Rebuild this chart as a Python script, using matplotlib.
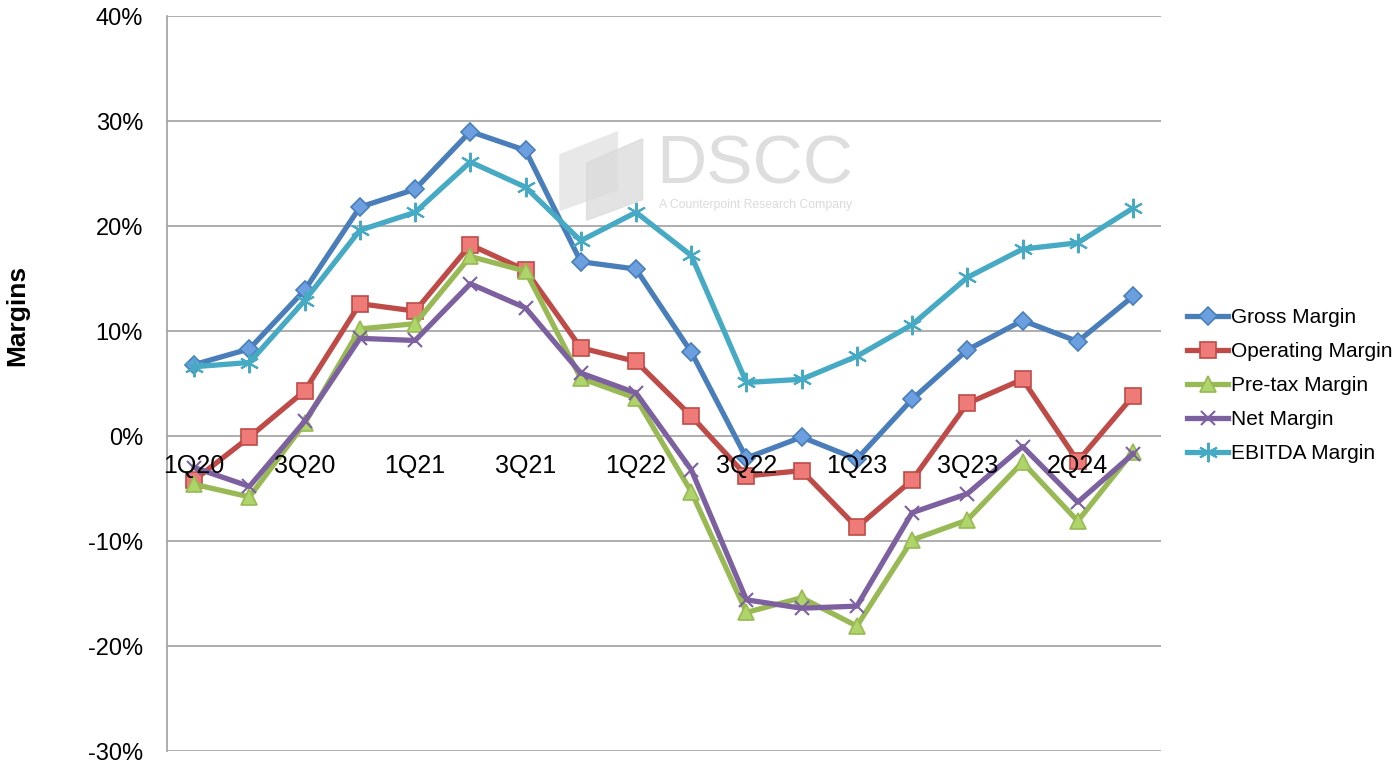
import matplotlib
matplotlib.use('Agg')
import matplotlib.pyplot as plt
from matplotlib.patches import Polygon
from matplotlib.ticker import FuncFormatter

plt.rcParams['font.family'] = ['Liberation Sans', 'DejaVu Sans']

#Data (percent)
quarters = ['1Q20', '2Q20', '3Q20', '4Q20', '1Q21', '2Q21', '3Q21', '4Q21', '1Q22',
            '2Q22', '3Q22', '4Q22', '1Q23', '2Q23', '3Q23', '1Q24', '2Q24', '3Q24']
shown_labels = ['1Q20', '3Q20', '1Q21', '3Q21', '1Q22', '3Q22', '1Q23', '3Q23', '2Q24']
gross = [6.8, 8.3, 13.9, 21.8, 23.5, 29.0, 27.2, 16.6, 15.9, 8.0, -2.1, -0.1, -2.2, 3.5, 8.2, 11.0, 9.0, 13.3]
operating = [-4.2, -0.1, 4.3, 12.6, 11.9, 18.2, 15.8, 8.4, 7.1, 1.9, -3.8, -3.3, -8.7, -4.2, 3.1, 5.4, -2.4, 3.8]
pretax = [-4.6, -5.8, 1.2, 10.2, 10.7, 17.1, 15.7, 5.5, 3.6, -5.3, -16.8, -15.4, -18.1, -9.9, -8.0, -2.5, -8.1, -1.5]
net = [-3.0, -4.8, 1.4, 9.3, 9.1, 14.5, 12.2, 6.0, 4.1, -3.2, -15.6, -16.4, -16.2, -7.3, -5.5, -1.0, -6.3, -1.7]
ebitda = [6.6, 7.0, 12.9, 19.6, 21.3, 26.1, 23.7, 18.6, 21.3, 17.2, 5.1, 5.4, 7.6, 10.6, 15.1, 17.8, 18.4, 21.7]

series = [
    ('Gross Margin', gross, '#4A7EBB', '#6C9FE0', 'D', 9),
    ('Operating Margin', operating, '#BE4B48', '#EE7B78', 's', 11),
    ('Pre-tax Margin', pretax, '#98B954', '#AED46A', '^', 11),
    ('Net Margin', net, '#7D60A0', '#7D60A0', 'x', 10),
    ('EBITDA Margin', ebitda, '#46AAC5', '#46AAC5', (6, 2, 0), 14),
]

fig = plt.figure(figsize=(14, 7.62), dpi=100)
ax = fig.add_axes([0.119, 0.0144, 0.710, 0.9646])

#watermark (logo + text)
fig.patches.append(Polygon([(0.400, 0.724), (0.441, 0.751), (0.441, 0.827), (0.400, 0.797)],
                           closed=True, transform=fig.transFigure, color='#E8E8E8', zorder=0))
fig.patches.append(Polygon([(0.419, 0.711), (0.459, 0.738), (0.459, 0.818), (0.419, 0.786)],
                           closed=True, transform=fig.transFigure, color='#DADADA', alpha=0.75, zorder=0))
fig.text(0.469, 0.783, 'DSCC', fontsize=50, color='#DEDEDE', ha='left', va='center', zorder=0)
fig.text(0.471, 0.731, 'A Counterpoint Research Company', fontsize=8.8, color='#DADADA',
         ha='left', va='center', zorder=0)

x = list(range(len(quarters)))
for name, vals, lc, mc, mk, ms in series:
    ax.plot(x, vals, color=lc, lw=3.8, marker=mk, markersize=ms, markerfacecolor=mc,
            markeredgecolor=lc, markeredgewidth=1.2 if mk not in ('x', (6, 2, 0)) else 1.5,
            label=name, zorder=3)

ax.set_xlim(-0.5, len(quarters) - 0.5)
ax.set_ylim(-30, 40)
ax.set_yticks(range(-30, 41, 10))
ax.yaxis.set_major_formatter(FuncFormatter(lambda v, p: '{:d}%'.format(int(v))))
ax.grid(axis='y', color='#A0A0A0', lw=1.2)
ax.set_axisbelow(True)
for s in ['top', 'right', 'bottom']:
    ax.spines[s].set_visible(False)
ax.spines['left'].set_color('#A0A0A0')
ax.spines['left'].set_linewidth(1.2)
ax.tick_params(axis='y', length=0, labelsize=17, pad=17)

#category labels hang off the 0% line
ax.set_xticks([])
for i, q in enumerate(quarters):
    if q in shown_labels:
        ax.text(i, -2.85, q, fontsize=18, ha='center', va='center', zorder=4)

ax.set_ylabel('Margins', fontsize=19, fontweight='bold')
ax.yaxis.set_label_coords(-0.138, 0.593)

leg = ax.legend(loc='center left', bbox_to_anchor=(1.018, 0.497), frameon=False, fontsize=15,
                handlelength=2.0, handletextpad=0.1, labelspacing=0.72, borderaxespad=0)

fig.savefig('out.png', dpi=100)
